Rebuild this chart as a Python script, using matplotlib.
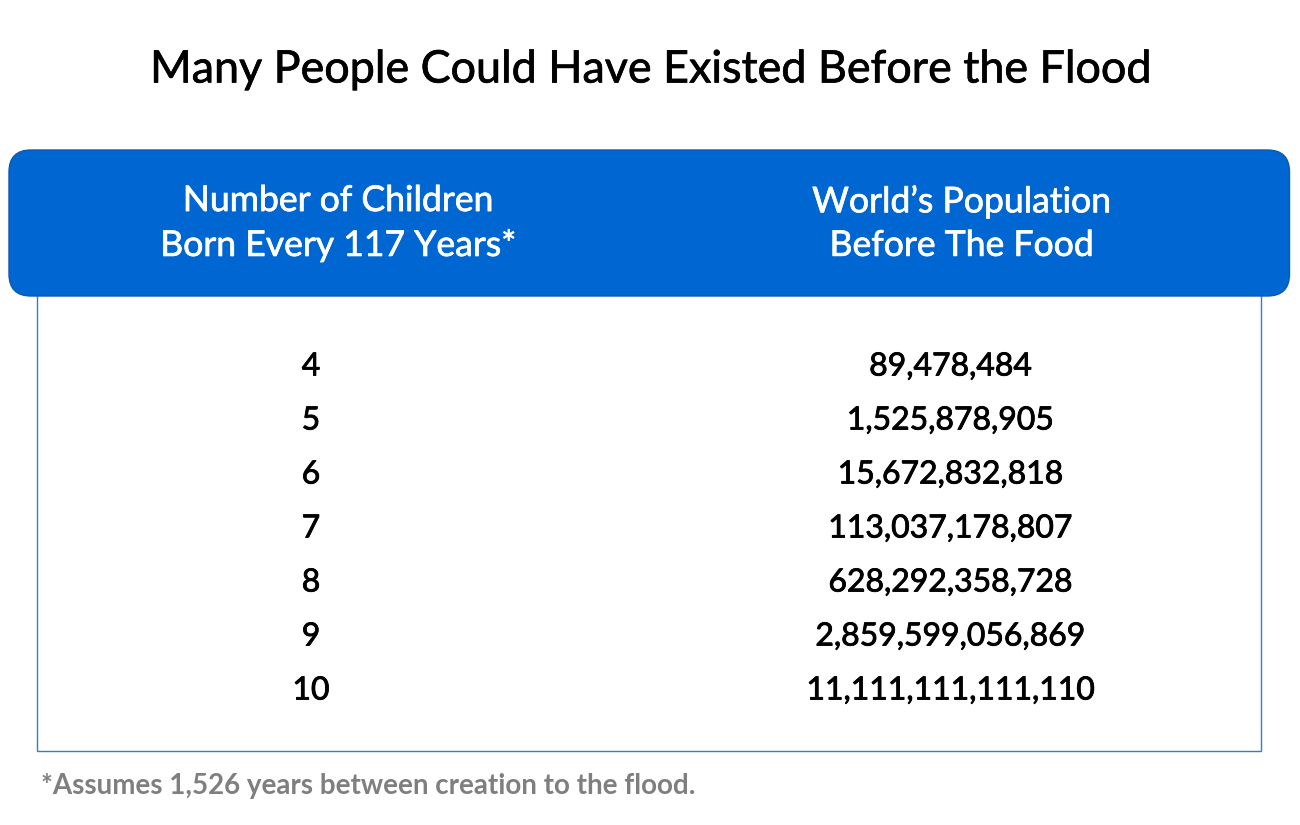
import matplotlib.pyplot as plt
import matplotlib.patheffects as pe
from matplotlib.patches import FancyBboxPatch, Rectangle

plt.rcParams['font.family'] = ['Lato', 'DejaVu Sans']

title = 'Many People Could Have Existed Before the Flood'
header_left = 'Number of Children\nBorn Every 117 Years*'
header_right = 'World\u2019s Population\nBefore The Food'
children = ['4', '5', '6', '7', '8', '9', '10']
population = ['89,478,484', '1,525,878,905', '15,672,832,818', '113,037,178,807',
              '628,292,358,728', '2,859,599,056,869', '11,111,111,111,110']
footnote = '*Assumes 1,526 years between creation to the flood.'

blue = '#0066d1'


def thicker(color, w=0.6):
    # Lato medium is not picked up, so thicken the regular weight a bit
    return [pe.withStroke(linewidth=w, foreground=color)]


fig = plt.figure(figsize=(13, 8.25), dpi=100)
ax = fig.add_axes([0, 0, 1, 1])
ax.set_xlim(0, 1300)
ax.set_ylim(825, 0)
ax.axis('off')

# body box
ax.add_patch(Rectangle((36.5, 280), 1224.5, 471, fc='white', ec='#2f7fc4', lw=1))

# header
ax.add_patch(FancyBboxPatch((24, 165), 1250.5, 116, boxstyle='round,pad=15,rounding_size=22',
                            fc=blue, ec='#0a5bb0', lw=1))

ax.text(650.5, 70, title, ha='center', va='center', fontsize=32.3, color='black',
        path_effects=thicker('black', 0.5))

ax.text(338, 223, header_left, ha='center', va='center', fontsize=25.6, color='white',
        linespacing=1.39, path_effects=thicker('white', 0.5))
ax.text(961.5, 223, header_right, ha='center', va='center', fontsize=25.6, color='white',
        linespacing=1.39, path_effects=thicker('white', 0.5))

# rows
for i in range(len(children)):
    y = 366.5 + i * 54
    ax.text(311, y, children[i], ha='center', va='center', fontsize=23, color='black',
            path_effects=thicker('black'))
    ax.text(950.5, y, population[i], ha='center', va='center', fontsize=23, color='black',
            path_effects=thicker('black'))

ax.text(41, 786, footnote, ha='left', va='center', fontsize=20, fontweight='bold', color='#7f7f7f')

fig.savefig('out.png', dpi=100)
